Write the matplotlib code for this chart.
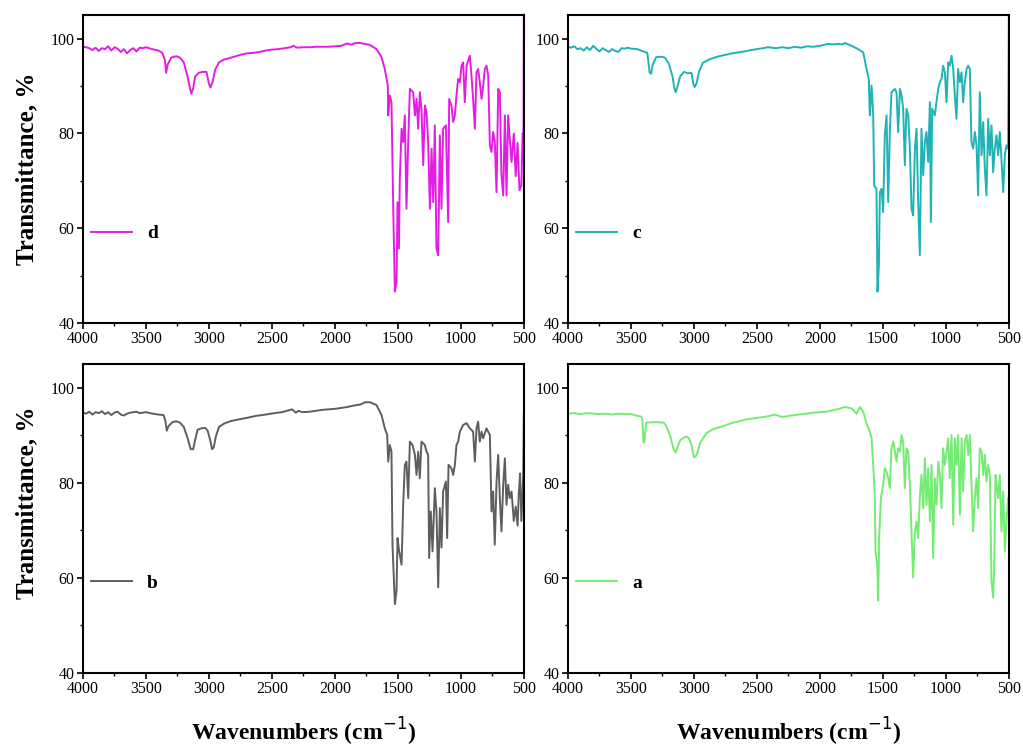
import matplotlib
matplotlib.use("Agg")
import matplotlib.pyplot as plt
from matplotlib.ticker import MultipleLocator

plt.rcParams["font.family"] = "Liberation Serif"

# ---- spectrum d (top-left) ----
wn_d = [4000, 3975, 3950, 3925, 3900, 3875, 3850, 3825, 3800, 3775, 3750, 3725, 3700, 3675,
        3650, 3625, 3600, 3575, 3550, 3525, 3500, 3450, 3400, 3370, 3350, 3340, 3328, 3300,
        3260, 3230, 3200, 3170, 3150, 3140, 3125, 3110, 3080, 3050, 3020, 3000, 2988, 2972,
        2950, 2920, 2880, 2850, 2800, 2750, 2700, 2650, 2600, 2550, 2500, 2450, 2400, 2350,
        2330, 2300, 2250, 2200, 2150, 2100, 2050, 2000, 1950, 1900, 1870, 1850, 1820,
        1802, 1723, 1670, 1630, 1604, 1590, 1580, 1577, 1564, 1551, 1537, 1524, 1511, 1503,
        1492, 1485, 1471, 1458, 1445, 1432, 1418, 1405, 1379, 1365, 1352, 1339, 1326, 1313,
        1299, 1286, 1273, 1260, 1246, 1233, 1220, 1207, 1194, 1180, 1167, 1154, 1141, 1119,
        1101, 1093, 1075, 1061, 1048, 1035, 1022, 1008, 995, 982, 969, 955, 929, 916, 903,
        889, 876, 863, 850, 836, 823, 810, 797, 783, 770, 757, 744, 731, 717, 704, 691, 678,
        664, 651, 638, 625, 612, 598, 580, 565, 550, 535, 520, 510, 503, 500]
tr_d = [98.3, 98.2, 98.0, 97.6, 98.1, 97.4, 98.0, 97.8, 98.4, 97.5, 98.2, 97.9, 97.2, 97.8,
        96.9, 97.6, 98.0, 97.3, 98.1, 98.0, 98.2, 97.8, 97.5, 97.0, 95.5, 92.8, 94.5, 96.0,
        96.3, 96.0, 95.0, 92.0, 89.5, 88.4, 89.5, 92.0, 92.8, 93.0, 93.0, 90.5, 89.7, 90.8,
        93.5, 95.0, 95.6, 95.8, 96.2, 96.6, 96.9, 97.0, 97.2, 97.5, 97.7, 97.8, 98.0, 98.2,
        98.5, 98.1, 98.2, 98.2, 98.3, 98.3, 98.3, 98.4, 98.5, 99.0, 98.7, 99.0, 99.1,
        99.1, 98.7, 97.8, 96.1, 93.6, 91.5, 90.1, 83.8, 88.0, 86.6, 64.1, 46.6, 48.7, 65.5,
        55.7, 70.4, 81.0, 78.2, 83.8, 64.1, 78.2, 89.4, 88.7, 83.8, 87.3, 81.0, 88.7, 85.2,
        73.3, 85.9, 84.5, 78.2, 64.1, 76.8, 65.5, 81.7, 55.7, 54.3, 79.6, 64.1, 81.0, 81.7,
        61.3, 87.3, 85.9, 82.4, 83.8, 88.0, 91.5, 90.8, 94.3, 95.0, 86.6, 94.3, 96.4, 92.2, 87.3,
        81.0, 92.9, 93.6, 90.8, 87.3, 90.1, 93.6, 94.3, 92.2, 77.5, 76.1, 80.3, 78.2, 67.6, 89.4,
        88.7, 71.2, 66.9, 83.8, 66.9, 83.8, 78.9, 74.0, 80.0, 71.0, 78.0, 68.0, 69.0, 80.0,
        79.0, 106.0]

# ---- spectrum c (top-right) ----
wn_c = [4000, 3975, 3950, 3925, 3900, 3875, 3850, 3825, 3800, 3775, 3750, 3725, 3700, 3675,
        3650, 3625, 3600, 3575, 3550, 3525, 3500, 3450, 3400, 3370, 3352, 3340, 3328, 3300,
        3260, 3230, 3200, 3170, 3155, 3145, 3130, 3110, 3080, 3050, 3020, 3005, 2995, 2980,
        2960, 2930, 2880, 2850, 2800, 2750, 2700, 2650, 2600, 2550, 2500, 2450, 2413, 2350,
        2300, 2250, 2200, 2150, 2100, 2050, 2000, 1937, 1900, 1850, 1820,
        1802, 1749, 1696, 1656, 1630, 1612, 1604, 1590, 1577, 1569, 1551, 1543, 1532, 1524,
        1511, 1498, 1485, 1471, 1458, 1445, 1432, 1405, 1392, 1379, 1365, 1352, 1339, 1326,
        1313, 1299, 1286, 1273, 1260, 1246, 1233, 1220, 1207, 1194, 1180, 1167, 1154, 1141,
        1127, 1119, 1109, 1088, 1075, 1061, 1048, 1035, 1022, 1008, 995, 982, 969, 955, 942,
        929, 916, 903, 889, 876, 863, 850, 836, 823, 810, 797, 784, 770, 757, 744, 731, 717,
        704, 691, 678, 664, 651, 638, 625, 612, 598, 585, 572, 559, 545, 532, 519, 506, 500]
tr_c = [98.3, 98.1, 98.4, 97.8, 98.0, 97.5, 98.2, 97.6, 98.5, 97.9, 97.3, 98.0, 97.6, 97.2,
        97.8, 97.4, 97.2, 98.0, 97.9, 98.1, 97.9, 97.8, 97.3, 97.0, 92.9, 92.6, 94.5, 96.1,
        96.2, 96.0, 94.8, 92.0, 89.5, 88.7, 90.0, 92.0, 93.0, 92.7, 92.8, 90.5, 89.8, 90.5,
        93.0, 94.9, 95.6, 95.9, 96.3, 96.6, 96.9, 97.1, 97.3, 97.6, 97.8, 98.0, 98.2, 98.0,
        98.2, 98.0, 98.3, 98.1, 98.4, 98.3, 98.5, 98.9, 98.8, 98.9, 98.8,
        99.1, 98.5, 97.8, 97.1, 93.6, 91.5, 83.8, 90.1, 83.8, 69.0, 68.3, 46.6, 52.2, 67.6,
        68.3, 63.4, 79.6, 83.8, 65.5, 80.3, 88.7, 89.4, 88.7, 80.3, 89.4, 88.0, 85.2, 73.3,
        85.2, 83.8, 76.8, 64.1, 62.7, 76.8, 81.0, 65.5, 54.3, 81.0, 71.2, 78.2, 80.3, 74.0,
        86.6, 61.3, 85.2, 83.8, 86.6, 89.4, 90.8, 91.5, 94.3, 92.9, 86.6, 95.0, 94.3, 96.4, 93.6,
        88.0, 83.1, 93.6, 90.8, 92.9, 86.6, 90.8, 93.6, 94.3, 93.6, 78.2, 76.8, 80.3, 77.5,
        66.9, 88.7, 75.4, 82.4, 72.6, 66.9, 83.1, 75.4, 81.7, 71.8, 76.8, 79.6, 75.4, 80.3,
        74.6, 67.6, 75.4, 77.5, 76.8, 106.0]

# ---- spectrum b (bottom-left) ----
wn_b = [4000, 3975, 3950, 3925, 3900, 3875, 3850, 3825, 3800, 3775, 3750, 3725, 3700, 3675,
        3650, 3625, 3600, 3575, 3550, 3525, 3500, 3450, 3400, 3360, 3345, 3335, 3320, 3290,
        3260, 3230, 3200, 3170, 3145, 3125, 3110, 3090, 3060, 3030, 3010, 2990, 2975, 2962,
        2945, 2920, 2880, 2830, 2780, 2700, 2632, 2550, 2480, 2420, 2340, 2310, 2290, 2260,
        2200, 2150, 2100, 2050, 2000, 1950, 1900, 1850, 1800, 1760,
        1723, 1670, 1630, 1604, 1585, 1577, 1564, 1551, 1543, 1524, 1511, 1503, 1490, 1471,
        1458, 1445, 1432, 1418, 1405, 1384, 1365, 1352, 1339, 1326, 1313, 1286, 1273, 1260,
        1252, 1239, 1225, 1207, 1194, 1180, 1167, 1154, 1141, 1119, 1109, 1098, 1075, 1061,
        1048, 1035, 1022, 1008, 982, 955, 929, 903, 889, 876, 863, 850, 836, 823, 797, 770,
        757, 744, 731, 717, 704, 691, 678, 664, 651, 638, 625, 612, 598, 580, 565, 550, 540,
        530, 520, 510, 505, 500]
tr_b = [94.8, 94.6, 95.0, 94.4, 94.9, 94.7, 95.1, 94.5, 94.9, 94.3, 94.8, 95.0, 94.4, 94.2,
        94.6, 94.8, 94.9, 95.0, 94.7, 94.8, 94.9, 94.6, 94.4, 94.3, 93.0, 91.0, 92.0, 92.8,
        93.0, 92.7, 91.8, 89.5, 87.1, 87.1, 89.0, 91.2, 91.5, 91.6, 91.0, 89.0, 87.1, 87.5,
        89.8, 91.8, 92.5, 93.0, 93.3, 93.7, 94.1, 94.4, 94.7, 94.9, 95.5, 94.8, 95.2, 94.9,
        95.0, 95.2, 95.4, 95.5, 95.6, 95.8, 96.0, 96.3, 96.5, 97.0,
        97.0, 96.4, 94.3, 91.5, 90.1, 84.5, 88.0, 86.6, 67.0, 54.5, 57.3, 68.4, 65.6, 62.8,
        75.4, 83.8, 84.5, 76.8, 88.7, 88.0, 85.9, 81.7, 86.6, 81.0, 88.7, 88.0, 86.6, 85.9,
        64.2, 74.0, 65.6, 78.9, 74.0, 58.0, 74.7, 66.4, 78.2, 80.3, 68.4, 83.8, 83.1, 81.7,
        83.8, 88.0, 88.7, 90.8, 92.2, 92.6, 91.5, 90.8, 84.5, 91.5, 92.9, 88.7, 90.8, 89.4,
        91.5, 90.1, 74.0, 78.2, 67.0, 80.3, 85.9, 76.8, 69.8, 79.6, 85.2, 75.4, 79.6, 76.8,
        78.2, 72.0, 75.0, 71.0, 78.0, 82.0, 72.0, 78.0, 82.0, 95.0]

# ---- spectrum a (bottom-right) ----
wn_a = [4000, 3950, 3900, 3850, 3800, 3750, 3700, 3650, 3600, 3550, 3500, 3460, 3420, 3410,
        3400, 3392, 3380, 3300, 3240, 3220, 3190, 3160, 3145, 3130, 3110, 3080, 3060, 3040,
        3020, 3000, 2985, 2970, 2950, 2900, 2850, 2767, 2700, 2582, 2500, 2420, 2357, 2300,
        2200, 2100, 2056, 1950, 1900, 1850, 1802, 1749, 1709, 1683, 1656, 1630, 1604, 1590,
        1577, 1564, 1559, 1545, 1537, 1530, 1516, 1498, 1485, 1471, 1458, 1445, 1432, 1418,
        1405, 1392, 1379, 1365, 1352, 1339, 1326, 1313, 1299, 1286, 1273, 1260, 1246, 1233,
        1220, 1207, 1194, 1180, 1167, 1154, 1141, 1127, 1114, 1101, 1088, 1075, 1061, 1048,
        1035, 1022, 1008, 995, 982, 969, 955, 942, 929, 916, 903, 889, 876, 863, 850, 836,
        823, 810, 797, 784, 770, 757, 744, 731, 717, 704, 691, 678, 664, 651, 638, 625, 617,
        606, 598, 585, 572, 559, 545, 532, 519, 506, 500]
tr_a = [94.6, 94.7, 94.5, 94.7, 94.6, 94.5, 94.6, 94.4, 94.6, 94.5, 94.5, 94.2, 94.0, 93.5,
        88.5, 89.0, 92.7, 92.8, 92.7, 92.0, 90.0, 87.0, 86.4, 87.5, 89.0, 89.5, 89.8, 89.4,
        88.0, 85.4, 85.6, 86.6, 88.5, 90.5, 91.3, 92.0, 92.6, 93.4, 93.7, 94.0, 94.4, 93.9,
        94.3, 94.6, 94.8, 95.0, 95.3, 95.6, 96.0, 95.7, 94.6, 96.0, 95.0, 92.5, 90.8, 89.4,
        83.8, 76.8, 65.6, 62.8, 55.2, 68.4, 76.8, 79.6, 83.1, 82.4, 81.0, 78.9, 87.3, 88.7,
        86.6, 84.5, 87.3, 86.6, 90.1, 88.7, 78.9, 87.3, 86.6, 79.6, 69.8, 60.1, 69.8, 71.9,
        68.4, 76.8, 81.7, 74.7, 85.2, 75.4, 83.1, 71.9, 83.8, 64.2, 81.0, 75.4, 84.5, 81.7,
        74.7, 87.3, 83.8, 86.6, 89.4, 81.0, 90.1, 71.2, 89.4, 83.8, 90.1, 73.3, 89.4, 78.2,
        88.7, 90.1, 85.9, 90.1, 79.6, 69.8, 76.8, 81.0, 74.7, 87.3, 86.6, 81.7, 85.9, 80.3,
        83.8, 81.7, 59.4, 55.9, 61.4, 81.7, 79.6, 76.8, 81.7, 69.8, 78.2, 65.6, 71.9, 76.8,
        73.3]

panels = [
    ("d", wn_d, tr_d, "#e41de4", [0.0811, 0.570, 0.431, 0.410]),
    ("c", wn_c, tr_c, "#1fb3b5", [0.5552, 0.570, 0.431, 0.410]),
    ("b", wn_b, tr_b, "#5e5e5e", [0.0811, 0.104, 0.431, 0.411]),
    ("a", wn_a, tr_a, "#74ec74", [0.5552, 0.104, 0.431, 0.411]),
]

fig = plt.figure(figsize=(10.23, 7.51), dpi=100)

for name, wn, tr, color, rect in panels:
    ax = fig.add_axes(rect)
    ax.plot(wn, tr, color=color, lw=1.4, label=name)
    ax.set_xlim(4000, 500)
    ax.set_ylim(40, 105)
    ax.xaxis.set_major_locator(MultipleLocator(500))
    ax.xaxis.set_minor_locator(MultipleLocator(250))
    ax.yaxis.set_major_locator(MultipleLocator(20))
    ax.yaxis.set_minor_locator(MultipleLocator(10))
    ax.tick_params(which="major", direction="out", length=4, width=1.2, labelsize=11.5, pad=2)
    ax.tick_params(which="minor", direction="out", length=2.5, width=1)
    for sp in ax.spines.values():
        sp.set_linewidth(1.5)
    ax.legend(loc="center left", bbox_to_anchor=(0.0, 0.29), frameon=False,
              handlelength=2.1, handletextpad=0.8, borderaxespad=0.0, borderpad=0.4,
              prop={"weight": "bold", "size": 14})

for y in (0.775, 0.33):
    fig.text(0.026, y, "Transmittance, %", rotation=90, ha="center", va="center",
             fontsize=18, fontweight="bold")
for x in (0.297, 0.771):
    fig.text(x, 0.026, "Wavenumbers (cm$^{-1}$)", ha="center", va="center",
             fontsize=17, fontweight="bold")

fig.savefig("out.png", dpi=100)
